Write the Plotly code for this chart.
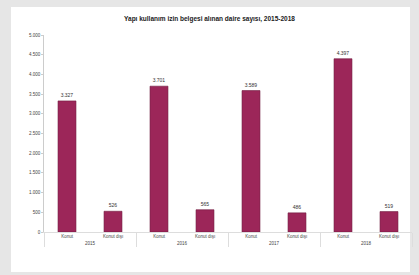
import plotly.graph_objects as go

years = ["2015", "2015", "2016", "2016", "2017", "2017", "2018", "2018"]
cats = ["Konut", "Konut dışı", "Konut", "Konut dışı", "Konut", "Konut dışı", "Konut", "Konut dışı"]
values = [3327, 526, 3701, 565, 3589, 486, 4397, 519]
value_labels = ["3.327", "526", "3.701", "565", "3.589", "486", "4.397", "519"]
title = "Yapı kullanım izin belgesi alınan daire sayısı, 2015-2018"

W, H = 419, 275
ml, mr, mt, mb = 44, 7, 35, 43

fig = go.Figure(go.Bar(
    x=[years, cats], y=values,
    text=value_labels, textposition="outside",
    textfont=dict(size=5, color="#333"),
    marker=dict(color="#9c2659", line=dict(color="#6e1a3e", width=0.6)),
    width=0.39, cliponaxis=False,
))

pw = W - ml - mr
ph = H - mt - mb
x0 = (11 - ml) / pw
x1 = (410 - ml) / pw
y0 = -(272 - (H - mb)) / ph
y1 = 1 + (mt - 7) / ph

fig.update_layout(
    width=W, height=H,
    margin=dict(l=ml, r=mr, t=mt, b=mb, autoexpand=False),
    paper_bgcolor="#e6e6e6", plot_bgcolor="rgba(0,0,0,0)",
    separators=",.",
    showlegend=False,
    title=dict(text="<b>" + title + "</b>", x=0.5, xanchor="center",
               y=1 - 19 / H, yanchor="middle", font=dict(size=6.5, color="#222", family="Liberation Sans")),
    font=dict(family="Liberation Sans", size=5, color="#444"),
    shapes=[dict(type="rect", xref="paper", yref="paper", x0=x0, x1=x1, y0=y0, y1=y1,
                 fillcolor="white", line=dict(width=0), layer="below")],
    yaxis=dict(range=[0, 5000], dtick=500, tickformat=",d", showgrid=False, automargin=False,
               showline=True, linecolor="#ccc", linewidth=0.6, ticks="outside", ticklen=2,
               tickcolor="#ccc", zeroline=False, tickfont=dict(size=4.5, color="#444")),
    xaxis=dict(type="multicategory", showline=True, linecolor="#ddd", linewidth=0.6, automargin=False,
               showdividers=True, dividercolor="#ddd", dividerwidth=0.6,
               tickfont=dict(size=4.5, color="#444")),
)

fig.write_html("out.html", config={"displayModeBar": False},
               post_script="document.body.style.margin='0';document.body.style.background='#e6e6e6';")
